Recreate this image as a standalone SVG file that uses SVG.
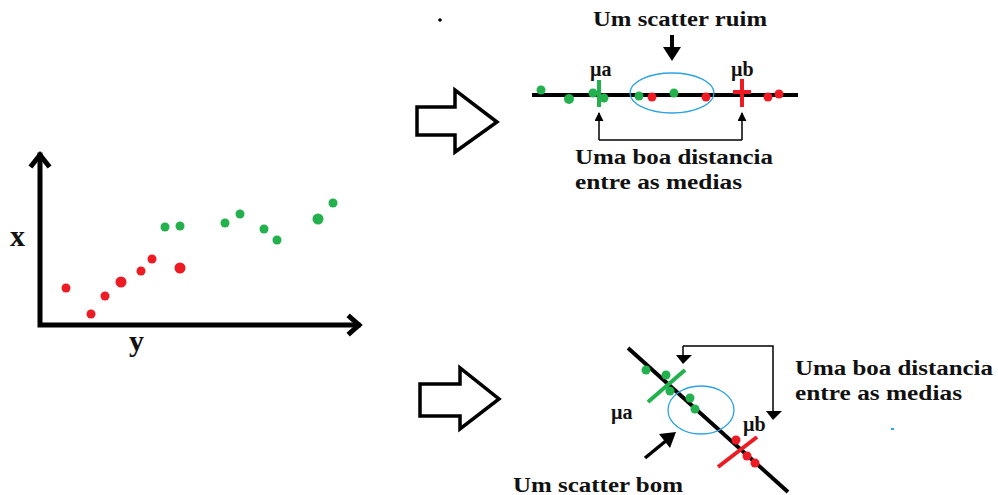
<svg xmlns="http://www.w3.org/2000/svg" width="998" height="495" viewBox="0 0 998 495">
<defs>
<style>
.t{font-family:"Liberation Serif","Times New Roman",serif;font-weight:bold;fill:#111;}
.g{fill:#22b14c;}
.r{fill:#ed1c24;}
.ax{stroke:#000;stroke-width:5;fill:none;stroke-linecap:square;}
.blk{fill:#fff;stroke:#000;stroke-width:3.5;stroke-linejoin:miter;}
.thin{stroke:#000;stroke-width:1.5;fill:none;}
.ell{fill:none;stroke:#2ba3e3;stroke-width:1.3;}
</style>
<marker id="ahs" viewBox="0 0 10 10" refX="9" refY="5" markerWidth="6" markerHeight="6" orient="auto" markerUnits="strokeWidth">
<path d="M0,0 L10,5 L0,10 z" fill="#000"/>
</marker>
</defs>
<rect width="998" height="495" fill="#fff"/>

<g id="scatter-plot">
<path class="ax" d="M40,155 V325 H358"/>
<path class="ax" d="M32,165 L40,155 L48,165" stroke-linejoin="miter"/>
<path class="ax" d="M350,317 L359,325 L350,333" stroke-linejoin="miter"/>
<text class="t" x="10" y="246" font-size="30">x</text>
<text class="t" x="129" y="351" font-size="30">y</text>
<g class="r">
<circle cx="66" cy="288" r="4.5"/><circle cx="91" cy="314" r="4.5"/><circle cx="105" cy="296" r="4.5"/>
<circle cx="121" cy="282" r="5.5"/><circle cx="141" cy="271" r="4.5"/><circle cx="152" cy="259" r="4.5"/>
<circle cx="180" cy="268" r="5.5"/>
</g>
<g class="g">
<circle cx="165" cy="227" r="4.5"/><circle cx="180" cy="226" r="4.5"/><circle cx="225" cy="223" r="4.5"/>
<circle cx="240" cy="214" r="4.5"/><circle cx="264" cy="229" r="4.5"/><circle cx="277" cy="240" r="4.5"/>
<circle cx="318" cy="219" r="5.5"/><circle cx="333" cy="203" r="4.5"/>
</g>
</g>

<g id="block-arrow-top">
<polygon class="blk" points="417,107 455,107 455,90 497,122 455,152 455,135 417,135"/>
</g>
<g id="block-arrow-bottom">
<polygon class="blk" points="420,384 460,384 460,368 499,399 460,429 460,416 420,416"/>
</g>

<g id="dot-speck">
<circle cx="440" cy="20" r="1.8" fill="#000"/>
<rect x="891" y="428" width="3" height="2" fill="#2ba3e3"/>
</g>

<g id="top-projection">
<line x1="532" y1="95" x2="798" y2="95" stroke="#000" stroke-width="4"/>
<ellipse class="ell" cx="672" cy="93" rx="42" ry="20"/>
<g class="g">
<circle cx="541" cy="90" r="4.5"/><circle cx="569" cy="99" r="5"/><circle cx="593" cy="93" r="4.5"/>
<circle cx="604" cy="98" r="4.5"/><circle cx="639" cy="96" r="4.5"/><circle cx="674" cy="93" r="4.5"/>
</g>
<g class="r">
<circle cx="652" cy="97" r="4.5"/><circle cx="706" cy="97" r="4.5"/><circle cx="768" cy="97" r="4.5"/><circle cx="779" cy="94" r="4.5"/>
</g>
<line x1="599" y1="80" x2="599" y2="107" stroke="#22b14c" stroke-width="4"/>
<line x1="742" y1="79" x2="742" y2="107" stroke="#ed1c24" stroke-width="4"/>
<line x1="733" y1="92" x2="751" y2="92" stroke="#ed1c24" stroke-width="4"/>
<text class="t" x="590" y="76" font-size="20">µa</text>
<text class="t" x="731" y="76" font-size="20">µb</text>
</g>

<g id="top-labels">
<text class="t" x="593" y="26" font-size="20" textLength="174" lengthAdjust="spacingAndGlyphs">Um scatter ruim</text>
<text class="t" x="575" y="164" font-size="20" textLength="198" lengthAdjust="spacingAndGlyphs">Uma boa distancia</text>
<text class="t" x="575" y="189" font-size="20" textLength="167" lengthAdjust="spacingAndGlyphs">entre as medias</text>
</g>

<g id="bottom-projection">
<line x1="628" y1="348" x2="788" y2="492" stroke="#000" stroke-width="4"/>
<ellipse class="ell" cx="701" cy="410" rx="33" ry="24"/>
<line x1="648" y1="402" x2="685" y2="370" stroke="#22b14c" stroke-width="4"/>
<line x1="718" y1="467" x2="757" y2="437" stroke="#ed1c24" stroke-width="4"/>
<g class="g">
<circle cx="646" cy="370" r="4.5"/><circle cx="666" cy="375" r="4.5"/><circle cx="670" cy="391" r="4.5"/>
<circle cx="690" cy="398" r="4.5"/><circle cx="695" cy="409" r="4.5"/>
</g>
<g class="r">
<circle cx="736" cy="440" r="4.5"/><circle cx="747" cy="456" r="4.5"/><circle cx="755" cy="463" r="4.5"/>
</g>
<text class="t" x="611" y="419" font-size="20">µa</text>
<text class="t" x="743" y="431" font-size="20">µb</text>
</g>

<g id="bottom-labels">
<text class="t" x="795" y="375" font-size="20" textLength="198" lengthAdjust="spacingAndGlyphs">Uma boa distancia</text>
<text class="t" x="795" y="400" font-size="20" textLength="167" lengthAdjust="spacingAndGlyphs">entre as medias</text>
<text class="t" x="513" y="492" font-size="20" textLength="170" lengthAdjust="spacingAndGlyphs">Um scatter bom</text>
</g>

<g id="connectors">
<line x1="672" y1="35" x2="672" y2="50" stroke="#000" stroke-width="4"/>
<polygon points="663,47 681,47 672,61" fill="#000"/>
<path class="thin" d="M599,140 V113" marker-end="url(#ahs)"/>
<path class="thin" d="M742,140 V113" marker-end="url(#ahs)"/>
<path class="thin" d="M599,140 H742"/>
<path class="thin" d="M683,346 H773 V412"/>
<path class="thin" d="M683,346 V356"/>
<polygon points="676,355 692,355 683,364" fill="#000"/>
<polygon points="766,411 782,411 773,420" fill="#000"/>
<line x1="645" y1="458" x2="667" y2="440" stroke="#000" stroke-width="3.5"/>
<polygon points="676,432 659,434 670,448" fill="#000"/>
</g>
</svg>
